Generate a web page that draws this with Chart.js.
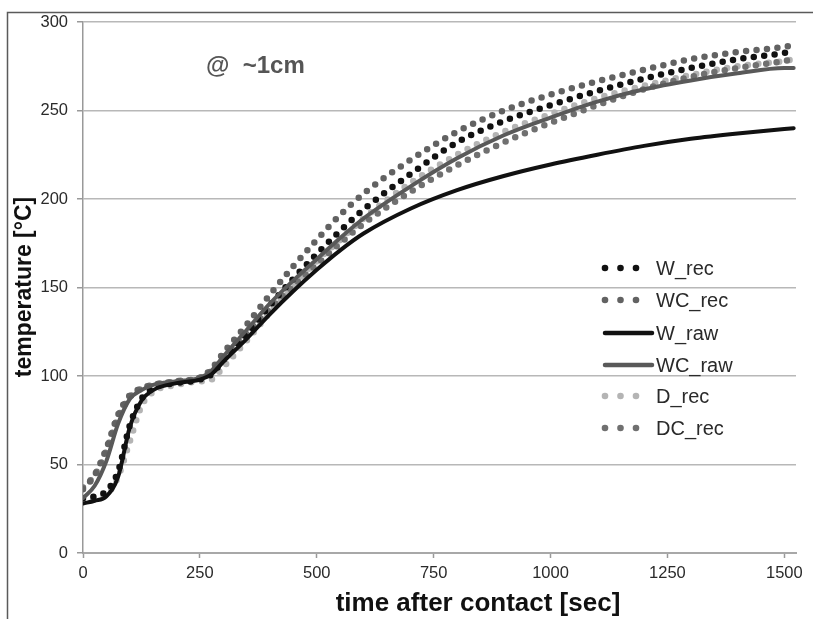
<!DOCTYPE html>
<html>
<head>
<meta charset="utf-8">
<script src="https://cdn.jsdelivr.net/npm/chart.js@4.4.1/dist/chart.umd.min.js"></script>
<style>
  html, body { margin: 0; padding: 0; background: #fff; }
  #c { display: block; }
</style>
</head>
<body>
<canvas id="c" width="813" height="619"></canvas>
<script>
// ---- data ----
const times  = [0, 25, 50, 75, 100, 125, 150, 200, 250, 275, 300, 350, 400, 450, 500, 550, 600, 700, 800, 900, 1000, 1100, 1200, 1300, 1400, 1500, 1520];
const W_rec  = [31, 32, 35, 46, 72, 87, 93, 96, 98, 101, 109, 124, 140, 155, 169, 182, 194, 214, 232, 244, 253, 261, 268, 274, 279, 282.5, 283.5];
const WC_rec = [36, 44, 59, 78, 89, 93, 95, 97, 99, 104, 113, 129, 146, 162, 177, 191, 203, 222, 238, 250, 259, 266.5, 273, 279, 283, 286, 287];
const W_raw  = [28, 29.5, 32, 43, 71, 86, 92, 96, 98, 101, 108, 121, 135, 148, 160, 171, 180.5, 194.5, 205, 213, 219.5, 225, 230, 234, 237, 239.5, 240];
const WC_raw = [31, 38, 52, 73, 87, 92, 95, 97, 99, 103, 111, 126, 141, 154, 166, 178, 189, 207, 223, 236, 246, 255, 262, 267, 271, 274, 274];
const D_rec  = [30, 31, 33, 43, 63, 83, 91, 95, 97, 98, 105, 120, 136, 151, 165, 177, 189, 209, 225, 238, 248, 257, 264, 270, 275, 278, 279];
const DC_rec = [37, 44, 58, 77, 88, 93, 95, 97, 99, 103, 110, 124, 138, 151, 163, 175, 186, 204, 219, 232, 243, 253, 262, 269, 274, 278, 279];

const yTicks = [0, 50, 100, 150, 200, 250, 300];
const xTicks = [0, 250, 500, 750, 1000, 1250, 1500];
const seriesNames = ['W_rec', 'WC_rec', 'W_raw', 'WC_raw', 'D_rec', 'DC_rec'];
const annotationText = '@  ~1cm';
const xTitle = 'time after contact [sec]';
const yTitle = 'temperature [°C]';

// ---- styles ----
const FONT = '"Liberation Sans", Arial, sans-serif';
const styles = {
  W_rec:  { color: '#111111', dotted: true,  order: 3 },
  WC_rec: { color: '#626262', dotted: true,  order: 4 },
  W_raw:  { color: '#111111', dotted: false, order: 1 },
  WC_raw: { color: '#595959', dotted: false, order: 2 },
  D_rec:  { color: '#b4b4b4', dotted: true,  order: 6 },
  DC_rec: { color: '#707070', dotted: true,  order: 5 }
};
const seriesValues = { W_rec, WC_rec, W_raw, WC_raw, D_rec, DC_rec };

const datasets = seriesNames.map(name => {
  const st = styles[name];
  const vals = seriesValues[name];
  return {
    label: name,
    data: times.map((t, i) => ({ x: t, y: vals[i] })),
    borderColor: st.color,
    backgroundColor: st.color,
    borderWidth: st.dotted ? 6.5 : 4,
    borderDash: st.dotted ? [0, 10.5] : [],
    borderCapStyle: 'round',
    borderJoinStyle: 'round',
    pointRadius: 0,
    cubicInterpolationMode: 'monotone',
    fill: false,
    order: st.order
  };
});

const framePlugin = {
  id: 'frame',
  beforeDraw(chart) {
    const ctx = chart.ctx;
    ctx.save();
    ctx.fillStyle = '#ffffff';
    ctx.fillRect(0, 0, chart.width, chart.height);
    ctx.strokeStyle = '#5a5a5a';
    ctx.lineWidth = 1.5;
    ctx.beginPath();
    ctx.moveTo(7.5, chart.height + 2);
    ctx.lineTo(7.5, 12.5);
    ctx.lineTo(chart.width + 2, 12.5);
    ctx.stroke();
    ctx.restore();
  }
};

const textPlugin = {
  id: 'texts',
  afterDraw(chart) {
    const ctx = chart.ctx;
    ctx.save();
    // annotation
    ctx.fillStyle = '#555555';
    ctx.font = 'bold 24px ' + FONT;
    ctx.textAlign = 'left';
    ctx.textBaseline = 'middle';
    ctx.fillText(annotationText, 206, 66);
    // x title
    ctx.fillStyle = '#111111';
    ctx.font = 'bold 26px ' + FONT;
    ctx.textAlign = 'center';
    ctx.fillText(xTitle, 478, 604);
    // y title
    ctx.save();
    ctx.translate(25, 287);
    ctx.rotate(-Math.PI / 2);
    ctx.font = 'bold 23px ' + FONT;
    ctx.fillText(yTitle, 0, 0);
    ctx.restore();
    // legend
    const legendY = [268, 300, 333, 365, 396, 428];
    seriesNames.forEach((name, i) => {
      const st = styles[name];
      const y = legendY[i];
      if (st.dotted) {
        ctx.fillStyle = st.color;
        [605, 620.5, 636].forEach(x => {
          ctx.beginPath();
          ctx.arc(x, y, 3.3, 0, Math.PI * 2);
          ctx.fill();
        });
      } else {
        ctx.strokeStyle = st.color;
        ctx.lineWidth = 4.5;
        ctx.lineCap = 'round';
        ctx.beginPath();
        ctx.moveTo(605, y);
        ctx.lineTo(652, y);
        ctx.stroke();
      }
      ctx.fillStyle = '#2a2a2a';
      ctx.font = '20px ' + FONT;
      ctx.textAlign = 'left';
      ctx.textBaseline = 'middle';
      ctx.fillText(name, 656, y + 1);
    });
    ctx.restore();
  }
};

new Chart(document.getElementById('c'), {
  type: 'line',
  data: { datasets },
  options: {
    responsive: false,
    animation: false,
    devicePixelRatio: 1,
    layout: { padding: { left: 0, top: 22, right: 17, bottom: 0 } },
    plugins: { legend: { display: false }, tooltip: { enabled: false }, title: { display: false } },
    scales: {
      x: {
        type: 'linear',
        min: 0,
        max: 1525,
        afterFit(s) { s.height = 66; },
        afterBuildTicks(s) { s.ticks = xTicks.map(v => ({ value: v })); },
        ticks: { stepSize: 250, includeBounds: false, color: '#2a2a2a', font: { family: FONT, size: 16.5 }, padding: 6, maxRotation: 0,
                 callback: v => String(v) },
        grid: { drawOnChartArea: false, drawTicks: true, tickLength: 5, tickColor: '#999999', tickWidth: 1.5 },
        border: { display: true, color: '#a8a8a8', width: 2 }
      },
      y: {
        type: 'linear',
        min: 0,
        max: 300,
        afterFit(s) { s.width = 83; },
        afterBuildTicks(s) { s.ticks = yTicks.map(v => ({ value: v })); },
        ticks: { stepSize: 50, color: '#2a2a2a', font: { family: FONT, size: 16.5 }, padding: 9, callback: v => String(v) },
        grid: { color: '#b8b8b8', lineWidth: 1.5, drawTicks: true, tickLength: 6, tickColor: '#999999', tickWidth: 1.5 },
        border: { display: true, color: '#999999', width: 1.5 }
      }
    }
  },
  plugins: [framePlugin, textPlugin]
});
</script>
</body>
</html>
